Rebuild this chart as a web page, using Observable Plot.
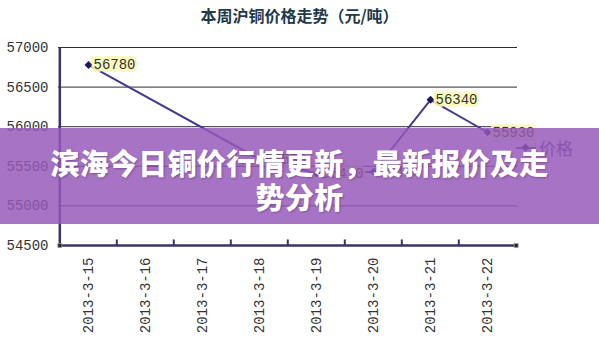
<!DOCTYPE html>
<html>
<head>
<meta charset="utf-8">
<script src="https://cdn.jsdelivr.net/npm/d3@7"></script>
<script src="https://cdn.jsdelivr.net/npm/@observablehq/plot@0.6"></script>
<style>
  html, body { margin: 0; padding: 0; background: #fff; }
  #wrap { position: relative; width: 599px; height: 353px; overflow: hidden; }
  #title { height: 30px; line-height: 30px; text-align: center; font-family: "Noto Sans CJK SC", sans-serif; font-weight: bold; font-size: 16px; color: #22394a; }
  #legend { position: absolute; left: 516px; top: 135px; font-family: "Noto Sans CJK SC", sans-serif; font-size: 17px; color: #4a3a70; display: flex; align-items: center; }
  #legend .sw { position: relative; width: 20px; height: 2px; background: #4a3c8c; margin-right: 3px; }
  #legend .sw i { position: absolute; left: 6px; top: -3px; width: 7px; height: 7px; background: #1d1a5c; transform: rotate(45deg) scale(0.8); }
  #banner { position: absolute; left: 0; top: 128px; width: 599px; height: 96px; background: rgba(150, 88, 185, 0.84); color: #fff; font-family: "Noto Sans CJK SC", sans-serif; font-weight: 900; font-size: 29px; line-height: 34px; text-align: center; box-sizing: border-box; padding-top: 17px; text-shadow: 1px 1px 2px rgba(60,20,80,0.35); letter-spacing: 0.3px; }
</style>
</head>
<body>
<div id="wrap">
  <div id="title">本周沪铜价格走势（元/吨）</div>
  <div id="chart"></div>
  <div id="legend"><span class="sw"><i></i></span><span>价格</span></div>
  <div id="banner">滨海今日铜价行情更新，最新报价及走<br>势分析</div>
</div>
<script>
const dates = ["2013-3-15", "2013-3-16", "2013-3-17", "2013-3-18", "2013-3-19", "2013-3-20", "2013-3-21", "2013-3-22"];
const prices = [56780, null, null, 55590, 55410, 55430, 56340, 55930];
const yTicks = [54500, 55000, 55500, 56000, 56500, 57000];

const data = dates.map((d, i) => ({date: d, price: prices[i]})).filter(d => d.price != null);
const half = 28.7;
const font = "'Liberation Mono', 'DejaVu Sans Mono', monospace";

const chart = Plot.plot({
  width: 599,
  height: 323,
  marginTop: 17,
  marginBottom: 108,
  marginLeft: 58,
  marginRight: 82,
  style: {fontFamily: font, fontSize: "13.5px", color: "#333", background: "transparent"},
  x: {type: "point", domain: dates, padding: 0.5, label: null},
  y: {domain: [54500, 57000], ticks: yTicks, label: null, tickFormat: d => String(d)},
  marks: [
    Plot.ruleY(yTicks.slice(1), {stroke: "#2a2a3a", strokeWidth: 1}),
    Plot.ruleY([54500], {stroke: "#3b3463", strokeWidth: 2.5}),
    Plot.ruleX([dates[0]], {y1: 54500, y2: 57000, dx: -half, stroke: "#3b3463", strokeWidth: 2.5}),
    Plot.ruleX(dates.slice(1), {y1: 54500, y2: 54570, dx: -half, stroke: "#3b3463", strokeWidth: 2}),
    Plot.dot([dates[0]], {x: d => d, y: () => 54500, dx: -half, symbol: "square", r: 2.2, fill: "#222", stroke: "#999", strokeWidth: 0.8}),
    Plot.dot([dates[dates.length - 1]], {x: d => d, y: () => 54500, dx: half, symbol: "square", r: 2.2, fill: "#222", stroke: "#999", strokeWidth: 0.8}),
    Plot.axisY({ticks: yTicks, tickSize: 0, tickPadding: 10, fill: "#333", fontSize: 14, tickFormat: d => String(d)}),
    Plot.axisX({tickRotate: -90, tickSize: 0, tickPadding: 12, fill: "#333", fontSize: 14}),
    Plot.line(data, {x: "date", y: "price", stroke: "#47398a", strokeWidth: 2}),
    Plot.dot(data, {x: "date", y: "price", symbol: "diamond2", r: 3.6, fill: "#1d1a5c"}),
    Plot.text(data, {x: "date", y: "price", text: d => String(d.price), dx: 5, textAnchor: "start", fill: "#333", stroke: "#fafab8", strokeWidth: 6, strokeOpacity: 0.9, fontSize: 14})
  ]
});
document.getElementById("chart").appendChild(chart);
</script>
</body>
</html>
